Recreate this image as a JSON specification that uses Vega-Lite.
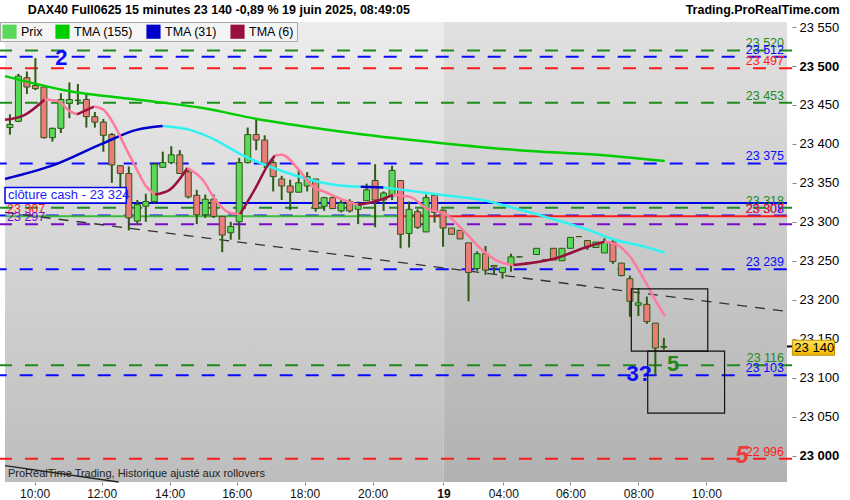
{
  "$schema": "https://vega.github.io/schema/vega-lite/v6.json",
  "width": 792,
  "height": 460,
  "autosize": {"type": "none"},
  "padding": {"left": 0, "top": 22, "right": 58, "bottom": 18},
  "background": "#ffffff",
  "config": {"font": "Liberation Sans", "view": {"stroke": null}, "axis": {"grid": false, "title": null}},
  "datasets": {
    "bougies": [
      {"i":0,"o":23421,"h":23438,"l":23412,"c":23425,"s":"Prix"},
      {"i":1,"o":23429,"h":23490,"l":23428,"c":23487,"s":"Prix"},
      {"i":2,"o":23485,"h":23493,"l":23464,"c":23473,"s":"Prix (baisse)"},
      {"i":3,"o":23475,"h":23510,"l":23469,"c":23471,"s":"Prix (baisse)"},
      {"i":4,"o":23473,"h":23474,"l":23407,"c":23408,"s":"Prix (baisse)"},
      {"i":5,"o":23408,"h":23421,"l":23403,"c":23420,"s":"Prix"},
      {"i":6,"o":23420,"h":23465,"l":23414,"c":23457,"s":"Prix"},
      {"i":7,"o":23452,"h":23479,"l":23433,"c":23457,"s":"Prix"},
      {"i":8,"o":23456,"h":23477,"l":23450,"c":23456,"s":"Prix"},
      {"i":9,"o":23457,"h":23465,"l":23421,"c":23435,"s":"Prix (baisse)"},
      {"i":10,"o":23435,"h":23441,"l":23421,"c":23428,"s":"Prix (baisse)"},
      {"i":11,"o":23428,"h":23432,"l":23390,"c":23411,"s":"Prix (baisse)"},
      {"i":12,"o":23412,"h":23414,"l":23350,"c":23373,"s":"Prix (baisse)"},
      {"i":13,"o":23372,"h":23373,"l":23344,"c":23362,"s":"Prix (baisse)"},
      {"i":14,"o":23362,"h":23371,"l":23289,"c":23305,"s":"Prix (baisse)"},
      {"i":15,"o":23301,"h":23328,"l":23296,"c":23322,"s":"Prix"},
      {"i":16,"o":23320,"h":23336,"l":23300,"c":23326,"s":"Prix"},
      {"i":17,"o":23326,"h":23376,"l":23324,"c":23374,"s":"Prix"},
      {"i":18,"o":23370,"h":23390,"l":23370,"c":23376,"s":"Prix"},
      {"i":19,"o":23376,"h":23397,"l":23374,"c":23386,"s":"Prix"},
      {"i":20,"o":23386,"h":23392,"l":23362,"c":23362,"s":"Prix (baisse)"},
      {"i":21,"o":23364,"h":23369,"l":23330,"c":23332,"s":"Prix (baisse)"},
      {"i":22,"o":23334,"h":23341,"l":23297,"c":23309,"s":"Prix (baisse)"},
      {"i":23,"o":23309,"h":23335,"l":23305,"c":23329,"s":"Prix"},
      {"i":24,"o":23329,"h":23335,"l":23305,"c":23307,"s":"Prix (baisse)"},
      {"i":25,"o":23307,"h":23307,"l":23261,"c":23283,"s":"Prix (baisse)"},
      {"i":26,"o":23286,"h":23300,"l":23277,"c":23294,"s":"Prix"},
      {"i":27,"o":23300,"h":23382,"l":23277,"c":23376,"s":"Prix"},
      {"i":28,"o":23376,"h":23421,"l":23375,"c":23412,"s":"Prix"},
      {"i":29,"o":23412,"h":23432,"l":23392,"c":23405,"s":"Prix (baisse)"},
      {"i":30,"o":23405,"h":23411,"l":23369,"c":23375,"s":"Prix (baisse)"},
      {"i":31,"o":23376,"h":23380,"l":23339,"c":23358,"s":"Prix (baisse)"},
      {"i":32,"o":23355,"h":23359,"l":23328,"c":23346,"s":"Prix (baisse)"},
      {"i":33,"o":23346,"h":23354,"l":23315,"c":23338,"s":"Prix (baisse)"},
      {"i":34,"o":23338,"h":23367,"l":23338,"c":23350,"s":"Prix"},
      {"i":35,"o":23346,"h":23364,"l":23339,"c":23358,"s":"Prix"},
      {"i":36,"o":23355,"h":23355,"l":23313,"c":23317,"s":"Prix (baisse)"},
      {"i":37,"o":23320,"h":23332,"l":23314,"c":23331,"s":"Prix"},
      {"i":38,"o":23331,"h":23334,"l":23317,"c":23317,"s":"Prix (baisse)"},
      {"i":39,"o":23314,"h":23328,"l":23312,"c":23324,"s":"Prix"},
      {"i":40,"o":23326,"h":23329,"l":23312,"c":23314,"s":"Prix (baisse)"},
      {"i":41,"o":23316,"h":23326,"l":23297,"c":23323,"s":"Prix"},
      {"i":42,"o":23327,"h":23349,"l":23327,"c":23341,"s":"Prix"},
      {"i":43,"o":23353,"h":23374,"l":23293,"c":23328,"s":"Prix (baisse)"},
      {"i":44,"o":23328,"h":23339,"l":23314,"c":23337,"s":"Prix"},
      {"i":45,"o":23333,"h":23372,"l":23328,"c":23366,"s":"Prix"},
      {"i":46,"o":23353,"h":23353,"l":23266,"c":23284,"s":"Prix (baisse)"},
      {"i":47,"o":23285,"h":23326,"l":23267,"c":23316,"s":"Prix"},
      {"i":48,"o":23313,"h":23316,"l":23291,"c":23293,"s":"Prix (baisse)"},
      {"i":49,"o":23287,"h":23335,"l":23287,"c":23331,"s":"Prix"},
      {"i":50,"o":23334,"h":23336,"l":23299,"c":23312,"s":"Prix (baisse)"},
      {"i":51,"o":23315,"h":23316,"l":23268,"c":23292,"s":"Prix (baisse)"},
      {"i":52,"o":23292,"h":23292,"l":23284,"c":23284,"s":"Prix (baisse)"},
      {"i":53,"o":23289,"h":23289,"l":23278,"c":23278,"s":"Prix (baisse)"},
      {"i":54,"o":23273,"h":23273,"l":23198,"c":23235,"s":"Prix (baisse)"},
      {"i":55,"o":23240,"h":23262,"l":23237,"c":23259,"s":"Prix"},
      {"i":56,"o":23259,"h":23269,"l":23232,"c":23238,"s":"Prix (baisse)"},
      {"i":57,"o":23244,"h":23244,"l":23232,"c":23242,"s":"Prix (baisse)"},
      {"i":58,"o":23235,"h":23241,"l":23227,"c":23241,"s":"Prix"},
      {"i":59,"o":23245,"h":23259,"l":23236,"c":23255,"s":"Prix"},
      {"i":60,"o":23255,"h":23256,"l":23255,"c":23255,"s":"Prix"},
      {"i":61,"o":23247,"h":23248,"l":23246,"c":23247,"s":"Prix"},
      {"i":62,"o":23258,"h":23266,"l":23258,"c":23266,"s":"Prix"},
      {"i":63,"o":23251,"h":23252,"l":23250,"c":23251,"s":"Prix"},
      {"i":64,"o":23266,"h":23266,"l":23251,"c":23251,"s":"Prix (baisse)"},
      {"i":65,"o":23250,"h":23266,"l":23250,"c":23266,"s":"Prix"},
      {"i":66,"o":23266,"h":23280,"l":23266,"c":23280,"s":"Prix"},
      {"i":67,"o":23281,"h":23281,"l":23281,"c":23281,"s":"Prix"},
      {"i":68,"o":23276,"h":23276,"l":23264,"c":23268,"s":"Prix (baisse)"},
      {"i":69,"o":23267,"h":23274,"l":23267,"c":23274,"s":"Prix"},
      {"i":70,"o":23260,"h":23279,"l":23260,"c":23274,"s":"Prix"},
      {"i":71,"o":23274,"h":23279,"l":23246,"c":23249,"s":"Prix (baisse)"},
      {"i":72,"o":23247,"h":23247,"l":23230,"c":23231,"s":"Prix (baisse)"},
      {"i":73,"o":23227,"h":23231,"l":23178,"c":23198,"s":"Prix (baisse)"},
      {"i":74,"o":23193,"h":23215,"l":23179,"c":23196,"s":"Prix"},
      {"i":75,"o":23194,"h":23204,"l":23169,"c":23172,"s":"Prix (baisse)"},
      {"i":76,"o":23170,"h":23170,"l":23103,"c":23138,"s":"Prix (baisse)"},
      {"i":77,"o":23139,"h":23151,"l":23136,"c":23140,"s":"Prix"}
    ],
    "moyennes": [
      {"i":-0.58,"v":23487,"s":"TMA (155)","g":"a"},
      {"i":6.4,"v":23469,"s":"TMA (155)","g":"a"},
      {"i":15.7,"v":23456,"s":"TMA (155)","g":"a"},
      {"i":22.7,"v":23446,"s":"TMA (155)","g":"a"},
      {"i":29.1,"v":23432,"s":"TMA (155)","g":"a"},
      {"i":35.5,"v":23421,"s":"TMA (155)","g":"a"},
      {"i":40.9,"v":23413,"s":"TMA (155)","g":"a"},
      {"i":50.9,"v":23401,"s":"TMA (155)","g":"a"},
      {"i":59.9,"v":23392,"s":"TMA (155)","g":"a"},
      {"i":69.2,"v":23386,"s":"TMA (155)","g":"a"},
      {"i":77.1,"v":23378,"s":"TMA (155)","g":"a"},

      {"i":-0.58,"v":23355,"s":"TMA (31)","g":"b1"},
      {"i":5.2,"v":23373,"s":"TMA (31)","g":"b1"},
      {"i":11,"v":23401,"s":"TMA (31)","g":"b1"},
      {"i":14.9,"v":23418,"s":"TMA (31)","g":"b1"},
      {"i":18,"v":23423,"s":"TMA (31)","g":"b1"},
      {"i":18,"v":23423,"s":"TMA (31) baisse","g":"b2"},
      {"i":21.2,"v":23418,"s":"TMA (31) baisse","g":"b2"},
      {"i":24.2,"v":23405,"s":"TMA (31) baisse","g":"b2"},
      {"i":27.3,"v":23386,"s":"TMA (31) baisse","g":"b2"},
      {"i":30.8,"v":23370,"s":"TMA (31) baisse","g":"b2"},
      {"i":34.7,"v":23356,"s":"TMA (31) baisse","g":"b2"},
      {"i":38.6,"v":23347,"s":"TMA (31) baisse","g":"b2"},
      {"i":41.3,"v":23345,"s":"TMA (31) baisse","g":"b2"},
      {"i":41.3,"v":23345,"s":"TMA (31)","g":"b3"},
      {"i":44,"v":23344,"s":"TMA (31)","g":"b3"},
      {"i":44,"v":23344,"s":"TMA (31) baisse","g":"b4"},
      {"i":46.3,"v":23341,"s":"TMA (31) baisse","g":"b4"},
      {"i":50.9,"v":23334.5,"s":"TMA (31) baisse","g":"b4"},
      {"i":55.6,"v":23328,"s":"TMA (31) baisse","g":"b4"},
      {"i":57.9,"v":23322,"s":"TMA (31) baisse","g":"b4"},
      {"i":59.9,"v":23316,"s":"TMA (31) baisse","g":"b4"},
      {"i":62.2,"v":23309,"s":"TMA (31) baisse","g":"b4"},
      {"i":68,"v":23290,"s":"TMA (31) baisse","g":"b4"},
      {"i":71.2,"v":23277,"s":"TMA (31) baisse","g":"b4"},
      {"i":73.8,"v":23270.5,"s":"TMA (31) baisse","g":"b4"},
      {"i":77.1,"v":23260.5,"s":"TMA (31) baisse","g":"b4"},

      {"i":-0.58,"v":23431,"s":"TMA (6)","g":"d1"},
      {"i":1.7,"v":23437,"s":"TMA (6)","g":"d1"},
      {"i":4.1,"v":23457,"s":"TMA (6)","g":"d1"},
      {"i":4.1,"v":23457,"s":"TMA (6) baisse","g":"p1"},
      {"i":5.6,"v":23455,"s":"TMA (6) baisse","g":"p1"},
      {"i":7.2,"v":23441,"s":"TMA (6) baisse","g":"p1"},
      {"i":7.9,"v":23438,"s":"TMA (6) baisse","g":"p1"},
      {"i":7.9,"v":23438,"s":"TMA (6)","g":"d2"},
      {"i":9.9,"v":23448,"s":"TMA (6)","g":"d2"},
      {"i":9.9,"v":23448,"s":"TMA (6) baisse","g":"p2"},
      {"i":11,"v":23444,"s":"TMA (6) baisse","g":"p2"},
      {"i":12.2,"v":23426,"s":"TMA (6) baisse","g":"p2"},
      {"i":13.4,"v":23400,"s":"TMA (6) baisse","g":"p2"},
      {"i":14.9,"v":23368,"s":"TMA (6) baisse","g":"p2"},
      {"i":16,"v":23346,"s":"TMA (6) baisse","g":"p2"},
      {"i":17.1,"v":23335,"s":"TMA (6) baisse","g":"p2"},
      {"i":17.1,"v":23335,"s":"TMA (6)","g":"d3"},
      {"i":18.8,"v":23341,"s":"TMA (6)","g":"d3"},
      {"i":20.9,"v":23369,"s":"TMA (6)","g":"d3"},
      {"i":20.9,"v":23369,"s":"TMA (6) baisse","g":"p3"},
      {"i":22.7,"v":23354,"s":"TMA (6) baisse","g":"p3"},
      {"i":24.2,"v":23328,"s":"TMA (6) baisse","g":"p3"},
      {"i":25.8,"v":23312,"s":"TMA (6) baisse","g":"p3"},
      {"i":27.1,"v":23310,"s":"TMA (6) baisse","g":"p3"},
      {"i":27.1,"v":23310,"s":"TMA (6)","g":"d4"},
      {"i":28.8,"v":23341,"s":"TMA (6)","g":"d4"},
      {"i":30.5,"v":23375,"s":"TMA (6)","g":"d4"},
      {"i":31.2,"v":23385,"s":"TMA (6)","g":"d4"},
      {"i":31.2,"v":23385,"s":"TMA (6) baisse","g":"p4"},
      {"i":32,"v":23386,"s":"TMA (6) baisse","g":"p4"},
      {"i":34,"v":23367,"s":"TMA (6) baisse","g":"p4"},
      {"i":35.5,"v":23347,"s":"TMA (6) baisse","g":"p4"},
      {"i":37.4,"v":23337,"s":"TMA (6) baisse","g":"p4"},
      {"i":39.8,"v":23326,"s":"TMA (6) baisse","g":"p4"},
      {"i":41,"v":23322,"s":"TMA (6) baisse","g":"p4"},
      {"i":41,"v":23322,"s":"TMA (6)","g":"d5"},
      {"i":43.3,"v":23327,"s":"TMA (6)","g":"d5"},
      {"i":45.1,"v":23334.5,"s":"TMA (6)","g":"d5"},
      {"i":45.1,"v":23334.5,"s":"TMA (6) baisse","g":"p5"},
      {"i":47.1,"v":23332,"s":"TMA (6) baisse","g":"p5"},
      {"i":49.1,"v":23317,"s":"TMA (6) baisse","g":"p5"},
      {"i":51.4,"v":23309,"s":"TMA (6) baisse","g":"p5"},
      {"i":53.3,"v":23290,"s":"TMA (6) baisse","g":"p5"},
      {"i":55.2,"v":23268,"s":"TMA (6) baisse","g":"p5"},
      {"i":57.2,"v":23251,"s":"TMA (6) baisse","g":"p5"},
      {"i":58.4,"v":23246,"s":"TMA (6) baisse","g":"p5"},
      {"i":59.3,"v":23244.5,"s":"TMA (6) baisse","g":"p5"},
      {"i":59.3,"v":23244.5,"s":"TMA (6)","g":"d6"},
      {"i":64.2,"v":23253,"s":"TMA (6)","g":"d6"},
      {"i":68,"v":23268,"s":"TMA (6)","g":"d6"},
      {"i":70,"v":23274.5,"s":"TMA (6)","g":"d6"},
      {"i":70,"v":23274.5,"s":"TMA (6) baisse","g":"p6"},
      {"i":71.5,"v":23270.5,"s":"TMA (6) baisse","g":"p6"},
      {"i":73,"v":23255.5,"s":"TMA (6) baisse","g":"p6"},
      {"i":74.7,"v":23225.5,"s":"TMA (6) baisse","g":"p6"},
      {"i":76.2,"v":23195.5,"s":"TMA (6) baisse","g":"p6"},
      {"i":77.1,"v":23179,"s":"TMA (6) baisse","g":"p6"}
    ],
    "niveaux": [
      {"p":23520,"k":"vert","t":"23 520"},
      {"p":23512,"k":"bleu","t":"23 512"},
      {"p":23497,"k":"rouge","t":"23 497"},
      {"p":23453,"k":"vert","t":"23 453"},
      {"p":23375,"k":"bleu","t":"23 375"},
      {"p":23318,"k":"vert","t":"23 318"},
      {"p":23308,"k":"bleu","t":"23 308"},
      {"p":23297,"k":"violet","t":""},
      {"p":23239,"k":"bleu","t":"23 239"},
      {"p":23116,"k":"vert","t":"23 116"},
      {"p":23103,"k":"bleu","t":"23 103"},
      {"p":22996,"k":"rouge","t":"22 996"}
    ],
    "traits": [
      {"p":23324,"k":"bleu fort","a":-0.58,"b":91.5,"t":""},
      {"p":23307,"k":"vert clair","a":-0.58,"b":45.9,"t":""},
      {"p":23307,"k":"rouge","a":45.9,"b":91.5,"t":"23 307"}
    ],
    "gauche": [
      {"p":23307,"k":"rouge","t":"23 307"},
      {"p":23297,"k":"violet","t":"23 297"}
    ],
    "tendance": [
      {"i":-0.58,"v":23312},
      {"i":91.5,"v":23185}
    ],
    "tendance2": [
      {"i":-0.58,"v":22987},
      {"i":12.8,"v":22966}
    ],
    "cadres": [
      {"a":73.17,"b":82.17,"p1":23214,"p2":23134},
      {"a":75.1,"b":84.15,"p1":23134,"p2":23054.4}
    ],
    "notes": [
      {"i":6.05,"v":23510,"t":"2","k":"bleu"},
      {"i":74.1,"v":23104,"t":"3?","k":"bleu"},
      {"i":78.1,"v":23118,"t":"5","k":"vert"}
    ]
  },
  "layer": [
    {
      "data": {"values": [{}]},
      "mark": {"type": "rect", "fill": {"gradient": "linear", "x1": 0, "y1": 0, "x2": 0, "y2": 1, "stops": [{"offset": 0, "color": "#ededed"}, {"offset": 1, "color": "#bdbdbd"}]}},
      "encoding": {
        "x": {"datum": -0.58, "type": "quantitative", "title": null, "scale": {"domain": [-0.58, 91.5], "nice": false, "zero": false},
          "axis": {"orient": "bottom", "title": null, "grid": false, "domain": false, "ticks": true, "tickSize": 3, "tickColor": "#888888", "labelPadding": 3, "labelFontSize": 12, "labelColor": "#111111", "labelFont": "Liberation Sans", "labelOverlap": false, "labelFlush": false, "labelBound": false,
            "values": [2.9, 10.8, 18.8, 26.7, 34.7, 42.7, 51.05, 58.1, 66, 74, 82],
            "labelExpr": "datum.value < 5 ? '10:00' : datum.value < 12 ? '12:00' : datum.value < 20 ? '14:00' : datum.value < 28 ? '16:00' : datum.value < 36 ? '18:00' : datum.value < 44 ? '20:00' : datum.value < 52 ? '19' : datum.value < 60 ? '04:00' : datum.value < 68 ? '06:00' : datum.value < 76 ? '08:00' : '10:00'",
            "labelFontWeight": {"condition": {"test": "datum.value > 50 && datum.value < 52", "value": "bold"}, "value": "normal"}}},
        "x2": {"datum": 51.05},
        "y": {"datum": 22966, "type": "quantitative", "title": null, "scale": {"domain": [22966, 23556.5], "nice": false, "zero": false},
          "axis": {"orient": "right", "title": null, "grid": false, "domain": false, "ticks": true, "tickSize": 4, "tickColor": "#888888", "labelPadding": 3, "labelFontSize": 13, "labelColor": "#000000", "labelFont": "Liberation Sans", "labelOverlap": false, "labelBound": false, "labelFlush": false,
            "values": [23000, 23050, 23100, 23150, 23200, 23250, 23300, 23350, 23400, 23450, 23500, 23550],
            "labelExpr": "replace(format(datum.value, ','), ',', ' ')",
            "labelFontWeight": {"condition": {"test": "datum.value % 500 === 0", "value": "bold"}, "value": "normal"}}},
        "y2": {"datum": 23556.5}
      }
    },
    {
      "data": {"values": [{}]},
      "mark": {"type": "rect", "fill": {"gradient": "linear", "x1": 0, "y1": 0, "x2": 0, "y2": 1, "stops": [{"offset": 0, "color": "#e1e1e1"}, {"offset": 1, "color": "#b1b1b1"}]}},
      "encoding": {
        "x": {"datum": 51.05, "type": "quantitative", "title": null},
        "x2": {"datum": 91.5},
        "y": {"datum": 22966, "type": "quantitative", "title": null},
        "y2": {"datum": 23556.5}
      }
    },
    {
      "data": {"name": "niveaux"},
      "transform": [{"filter": "datum.k != 'bleu'"}],
      "mark": {"type": "rule", "strokeDash": [13, 13], "strokeWidth": 2},
      "encoding": {
        "y": {"field": "p", "type": "quantitative", "title": null},
        "color": {"field": "k", "type": "nominal"}
      }
    },
    {
      "data": {"name": "niveaux"},
      "transform": [{"filter": "datum.k == 'bleu'"}],
      "mark": {"type": "rule", "strokeDash": [13, 13], "strokeDashOffset": 20.7, "strokeWidth": 2},
      "encoding": {
        "y": {"field": "p", "type": "quantitative", "title": null},
        "color": {"field": "k", "type": "nominal"}
      }
    },
    {
      "data": {"name": "traits"},
      "mark": {"type": "rule", "strokeWidth": 2},
      "encoding": {
        "x": {"field": "a", "type": "quantitative", "title": null},
        "x2": {"field": "b"},
        "y": {"field": "p", "type": "quantitative", "title": null},
        "color": {"field": "k", "type": "nominal"}
      }
    },
    {
      "data": {"name": "tendance"},
      "mark": {"type": "line", "color": "#333333", "strokeWidth": 1.3, "strokeDash": [10, 8]},
      "encoding": {
        "x": {"field": "i", "type": "quantitative", "title": null},
        "y": {"field": "v", "type": "quantitative", "title": null}
      }
    },
    {
      "data": {"name": "tendance2"},
      "mark": {"type": "line", "color": "#222222", "strokeWidth": 1.3},
      "encoding": {
        "x": {"field": "i", "type": "quantitative", "title": null},
        "y": {"field": "v", "type": "quantitative", "title": null}
      }
    },
    {
      "data": {"name": "bougies"},
      "mark": {"type": "rule", "color": "#2d5a14", "strokeWidth": 2},
      "encoding": {
        "x": {"field": "i", "type": "quantitative", "title": null},
        "y": {"field": "l", "type": "quantitative", "title": null},
        "y2": {"field": "h"}
      }
    },
    {
      "data": {"name": "bougies"},
      "mark": {"type": "bar", "width": 6, "stroke": "#2d5a14", "strokeWidth": 1},
      "encoding": {
        "x": {"field": "i", "type": "quantitative", "title": null},
        "y": {"field": "o", "type": "quantitative", "title": null},
        "y2": {"field": "c"},
        "color": {"field": "s", "type": "nominal",
          "scale": {"domain": ["Prix", "Prix (baisse)", "TMA (155)", "TMA (31)", "TMA (31) baisse", "TMA (6)", "TMA (6) baisse", "vert", "bleu", "rouge", "violet", "bleu fort", "vert clair"],
                    "range": ["#5ad85a", "#ec7b7b", "#00cc00", "#0000cc", "#2ff2f2", "#99103f", "#ff7a9c", "#1f8a1f", "#0a0aff", "#ff1a1a", "#7a0acc", "#0000e6", "#3cbc3c"]},
          "legend": {"orient": "top-left", "offset": 0, "direction": "horizontal", "title": null, "values": ["Prix", "TMA (155)", "TMA (31)", "TMA (6)"], "symbolType": "square", "symbolSize": 200, "symbolStrokeWidth": 0, "labelFontSize": 12.5, "labelFont": "Liberation Sans", "labelColor": "#000000", "fillColor": "#f5f5f5", "strokeColor": "#a8a8a8", "padding": 2, "columnPadding": 12, "symbolOpacity": 1}}
      }
    },
    {
      "data": {"name": "moyennes"},
      "mark": {"type": "line", "strokeWidth": 2.5, "interpolate": "monotone"},
      "encoding": {
        "x": {"field": "i", "type": "quantitative", "title": null},
        "y": {"field": "v", "type": "quantitative", "title": null},
        "color": {"field": "s", "type": "nominal"},
        "detail": {"field": "g"}
      }
    },
    {
      "data": {"name": "cadres"},
      "mark": {"type": "rect", "fillOpacity": 0, "stroke": "#111111", "strokeWidth": 1.2},
      "encoding": {
        "x": {"field": "a", "type": "quantitative", "title": null},
        "x2": {"field": "b"},
        "y": {"field": "p1", "type": "quantitative", "title": null},
        "y2": {"field": "p2"}
      }
    },
    {
      "data": {"name": "niveaux"},
      "transform": [{"filter": "datum.t != ''"}],
      "mark": {"type": "text", "align": "right", "baseline": "alphabetic", "dx": -3, "dy": -3, "fontSize": 12.5, "font": "Liberation Sans"},
      "encoding": {
        "x": {"datum": 91.5, "type": "quantitative", "title": null},
        "y": {"field": "p", "type": "quantitative", "title": null},
        "text": {"field": "t"},
        "color": {"field": "k", "type": "nominal"}
      }
    },
    {
      "data": {"name": "traits"},
      "transform": [{"filter": "datum.t != ''"}],
      "mark": {"type": "text", "align": "right", "baseline": "alphabetic", "dx": -3, "dy": -3, "fontSize": 12.5, "font": "Liberation Sans"},
      "encoding": {
        "x": {"datum": 91.5, "type": "quantitative", "title": null},
        "y": {"field": "p", "type": "quantitative", "title": null},
        "text": {"field": "t"},
        "color": {"field": "k", "type": "nominal"}
      }
    },
    {
      "data": {"name": "gauche"},
      "mark": {"type": "text", "align": "left", "baseline": "alphabetic", "dx": 2, "dy": -3, "fontSize": 12.5, "font": "Liberation Sans"},
      "encoding": {
        "x": {"datum": -0.58, "type": "quantitative", "title": null},
        "y": {"field": "p", "type": "quantitative", "title": null},
        "text": {"field": "t"},
        "color": {"field": "k", "type": "nominal"}
      }
    },
    {
      "data": {"values": [{}]},
      "mark": {"type": "rect", "fill": "#ffffff", "stroke": "#0000e6", "strokeWidth": 1.5},
      "encoding": {
        "x": {"datum": -0.58, "type": "quantitative", "title": null},
        "x2": {"datum": 13.7},
        "y": {"datum": 23324, "type": "quantitative", "title": null},
        "y2": {"datum": 23344}
      }
    },
    {
      "data": {"values": [{}]},
      "mark": {"type": "text", "align": "left", "baseline": "middle", "dx": 3, "fontSize": 13, "font": "Liberation Sans", "color": "#1a1aff"},
      "encoding": {
        "x": {"datum": -0.58, "type": "quantitative", "title": null},
        "y": {"datum": 23334, "type": "quantitative", "title": null},
        "text": {"value": "clôture cash -  23 324"}
      }
    },
    {
      "data": {"name": "notes"},
      "mark": {"type": "text", "align": "center", "baseline": "middle", "fontSize": 22, "fontWeight": "bold", "font": "Liberation Sans"},
      "encoding": {
        "x": {"field": "i", "type": "quantitative", "title": null},
        "y": {"field": "v", "type": "quantitative", "title": null},
        "text": {"field": "t"},
        "color": {"field": "k", "type": "nominal"}
      }
    },
    {
      "data": {"values": [{}]},
      "mark": {"type": "text", "align": "center", "baseline": "middle", "fontSize": 24, "fontWeight": "bold", "fontStyle": "italic", "font": "Liberation Sans", "color": "#ee3b3b"},
      "encoding": {
        "x": {"datum": 86.2, "type": "quantitative", "title": null},
        "y": {"datum": 22999, "type": "quantitative", "title": null},
        "text": {"value": "5"}
      }
    },
    {
      "data": {"values": [{}]},
      "mark": {"type": "text", "align": "left", "baseline": "middle", "dx": 3, "fontSize": 11, "font": "Liberation Sans", "color": "#222222"},
      "encoding": {
        "x": {"datum": -0.58, "type": "quantitative", "title": null},
        "y": {"datum": 22976.5, "type": "quantitative", "title": null},
        "text": {"value": "ProRealTime Trading, Historique ajusté aux rollovers"}
      }
    },
    {
      "data": {"values": [{}]},
      "mark": {"type": "text", "align": "left", "baseline": "middle", "fontSize": 12.5, "fontWeight": "bold", "font": "Liberation Sans", "color": "#000000"},
      "encoding": {
        "x": {"datum": 2.1, "type": "quantitative", "title": null},
        "y": {"datum": 23571.8, "type": "quantitative", "title": null},
        "text": {"value": "DAX40 Full0625 15 minutes 23 140 -0,89 % 19 juin 2025, 08:49:05"}
      }
    },
    {
      "data": {"values": [{}]},
      "mark": {"type": "text", "align": "right", "baseline": "middle", "fontSize": 12.5, "fontWeight": "bold", "font": "Liberation Sans", "color": "#000000"},
      "encoding": {
        "x": {"datum": 97.7, "type": "quantitative", "title": null},
        "y": {"datum": 23571.8, "type": "quantitative", "title": null},
        "text": {"value": "Trading.ProRealTime.com"}
      }
    },
    {
      "data": {"values": [{}]},
      "mark": {"type": "rule", "color": "#000000", "strokeWidth": 2},
      "encoding": {
        "x": {"datum": 91.5, "type": "quantitative", "title": null},
        "x2": {"datum": 92.13},
        "y": {"datum": 23140, "type": "quantitative", "title": null}
      }
    },
    {
      "data": {"values": [{}]},
      "mark": {"type": "rect", "stroke": "#c09000", "strokeWidth": 1, "fill": {"gradient": "linear", "x1": 0, "y1": 0, "x2": 0, "y2": 1, "stops": [{"offset": 0, "color": "#ffe45c"}, {"offset": 1, "color": "#f2b400"}]}},
      "encoding": {
        "x": {"datum": 92.13, "type": "quantitative", "title": null},
        "x2": {"datum": 97.1},
        "y": {"datum": 23148, "type": "quantitative", "title": null},
        "y2": {"datum": 23128.8}
      }
    },
    {
      "data": {"values": [{}]},
      "mark": {"type": "text", "align": "left", "baseline": "middle", "dx": 2, "fontSize": 13, "font": "Liberation Sans", "color": "#000000"},
      "encoding": {
        "x": {"datum": 92.13, "type": "quantitative", "title": null},
        "y": {"datum": 23138.4, "type": "quantitative", "title": null},
        "text": {"value": "23 140"}
      }
    }
  ]
}
